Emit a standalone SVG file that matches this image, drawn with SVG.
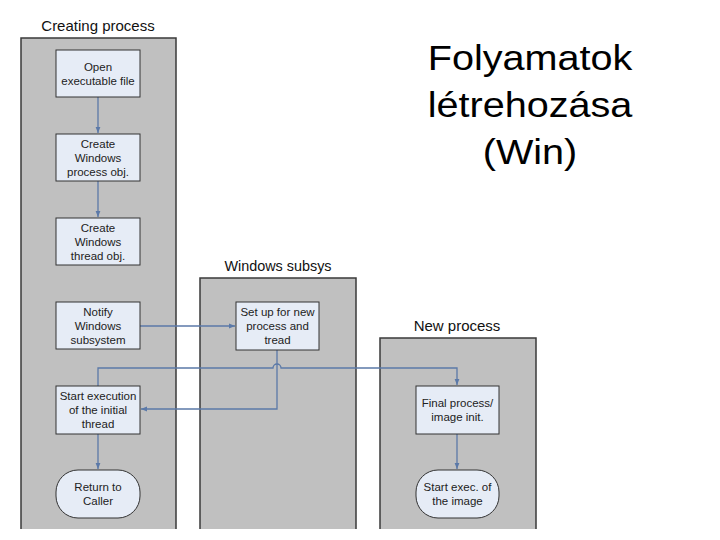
<svg xmlns="http://www.w3.org/2000/svg" width="720" height="540" viewBox="0 0 720 540">
<defs>
<marker id="ah" viewBox="0 0 10 10" refX="10" refY="5" markerWidth="6" markerHeight="6" orient="auto" markerUnits="userSpaceOnUse">
<path d="M0,1 L10,5 L0,9 Z" fill="#5b79a8"/>
</marker>
<style>
.lane{fill:#c0c0c0;stroke:none}
.laneb{fill:none;stroke:#3a3a3a;stroke-width:1.5}
.lt{font-family:"Liberation Sans",Arial,sans-serif;font-size:15px;fill:#111;text-anchor:middle}
.box{fill:#e6ecf6;stroke:#333;stroke-width:1}
.bt{font-family:"Liberation Sans",Arial,sans-serif;font-size:11.5px;fill:#222;text-anchor:middle}
.c{fill:none;stroke:#5b79a8;stroke-width:1.3}
.title{font-family:"Liberation Sans",Arial,sans-serif;font-size:36px;fill:#000;text-anchor:middle}
</style>
</defs>
<rect width="720" height="540" fill="#fff"/>

<g id="title" transform="translate(530,0) scale(1.1,1)">
<text class="title" x="0" y="70">Folyamatok</text>
<text class="title" x="0" y="117">létrehozása</text>
<text class="title" x="0" y="164">(Win)</text>
</g>

<g id="lane-creating">
<rect class="lane" x="21" y="38" width="155" height="491"/>
<path class="laneb" d="M21,529 V38 H176 V529"/>
<text class="lt" x="98" y="31">Creating process</text>
</g>
<g id="lane-subsys">
<rect class="lane" x="200" y="278" width="156" height="251"/>
<path class="laneb" d="M200,529 V278 H356 V529"/>
<text class="lt" x="278" y="271" style="font-size:14.4px">Windows subsys</text>
</g>
<g id="lane-new">
<rect class="lane" x="380" y="338" width="156" height="191"/>
<path class="laneb" d="M380,529 V338 H536 V529"/>
<text class="lt" x="457" y="331">New process</text>
</g>

<g id="connectors">
<path class="c" d="M98,97 V133" marker-end="url(#ah)"/>
<path class="c" d="M98,181 V217" marker-end="url(#ah)"/>
<path class="c" d="M140,326 H235" marker-end="url(#ah)"/>
<path class="c" d="M277,350 V409 H141" marker-end="url(#ah)"/>
<path class="c" d="M98,386 V368 H273 A4,4 0 0 1 281,368 H457 V385" marker-end="url(#ah)"/>
<path class="c" d="M98,434 V469" marker-end="url(#ah)"/>
<path class="c" d="M457,434 V469" marker-end="url(#ah)"/>
</g>

<g id="n-open">
<rect class="box" x="56" y="50" width="84" height="47"/>
<text class="bt" x="98" y="71">Open</text>
<text class="bt" x="98" y="85">executable file</text>
</g>
<g id="n-createproc">
<rect class="box" x="56" y="134" width="84" height="47"/>
<text class="bt" x="98" y="148">Create</text>
<text class="bt" x="98" y="162">Windows</text>
<text class="bt" x="98" y="176">process obj.</text>
</g>
<g id="n-createthread">
<rect class="box" x="56" y="218" width="84" height="47"/>
<text class="bt" x="98" y="232">Create</text>
<text class="bt" x="98" y="246">Windows</text>
<text class="bt" x="98" y="260">thread obj.</text>
</g>
<g id="n-notify">
<rect class="box" x="56" y="302" width="84" height="47"/>
<text class="bt" x="98" y="316">Notify</text>
<text class="bt" x="98" y="330">Windows</text>
<text class="bt" x="98" y="344">subsystem</text>
</g>
<g id="n-startexec">
<rect class="box" x="56" y="386" width="84" height="48"/>
<text class="bt" x="98" y="400">Start execution</text>
<text class="bt" x="98" y="414">of the initial</text>
<text class="bt" x="98" y="428">thread</text>
</g>
<g id="n-return">
<rect class="box" x="56" y="470" width="84" height="48" rx="22" ry="22"/>
<text class="bt" x="98" y="491">Return to</text>
<text class="bt" x="98" y="505">Caller</text>
</g>
<g id="n-setup">
<rect class="box" x="236" y="302" width="83" height="48"/>
<text class="bt" x="277.5" y="316">Set up for new</text>
<text class="bt" x="277.5" y="330">process and</text>
<text class="bt" x="277.5" y="344">tread</text>
</g>
<g id="n-final">
<rect class="box" x="416" y="386" width="83" height="48"/>
<text class="bt" x="457.5" y="407">Final process/</text>
<text class="bt" x="457.5" y="421">image init.</text>
</g>
<g id="n-startimage">
<rect class="box" x="416" y="470" width="83" height="48" rx="22" ry="22"/>
<text class="bt" x="457.5" y="491">Start exec. of</text>
<text class="bt" x="457.5" y="505">the image</text>
</g>
</svg>
